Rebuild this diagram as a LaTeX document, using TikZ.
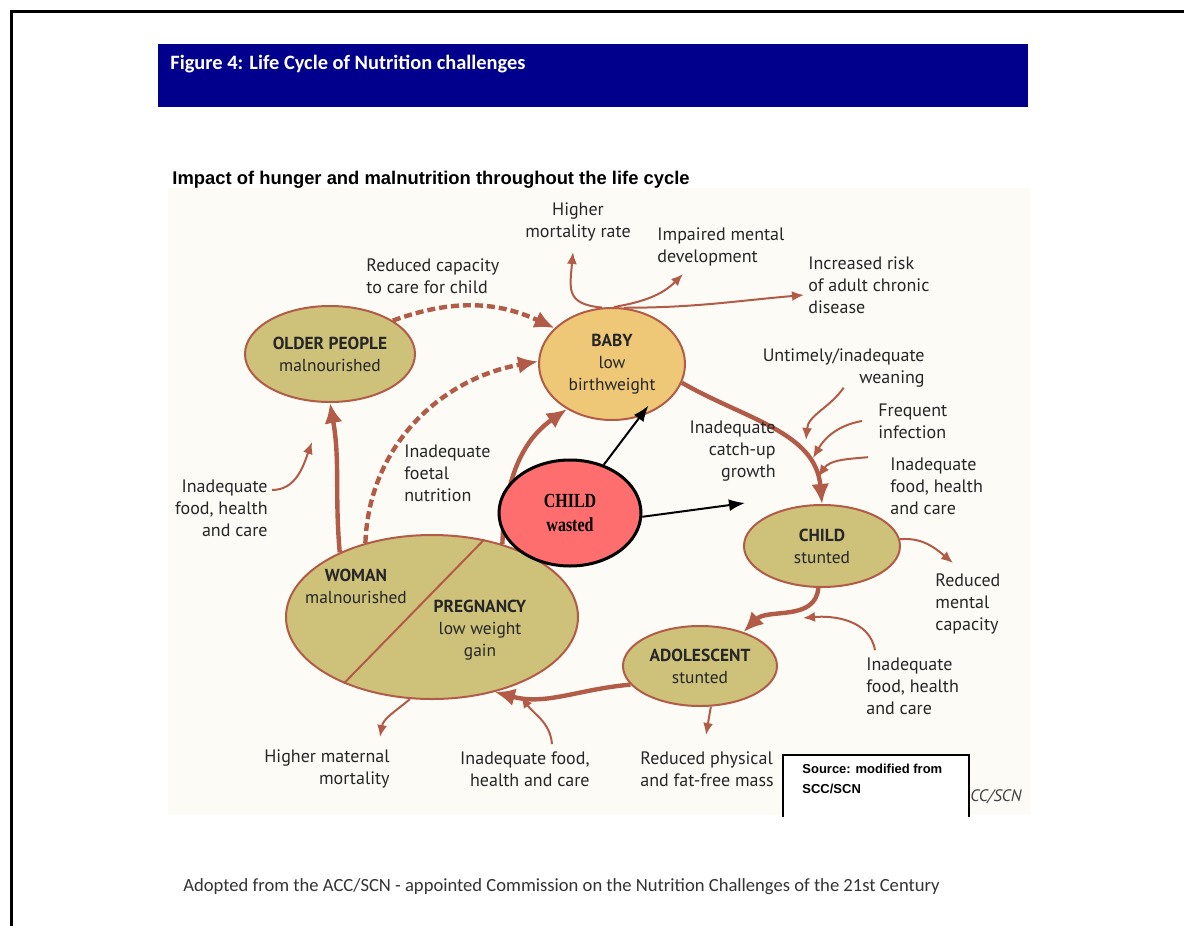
\documentclass[tikz,border=0pt]{standalone}
\usepackage{fontspec}
\setmainfont{PT Sans}
\newfontfamily\headfont{Carlito}
\newfontfamily\subfont{Liberation Sans}
\newfontfamily\wastedfont[FakeStretch=0.8]{Liberation Serif}
\usetikzlibrary{shapes.geometric,arrows.meta}
\definecolor{headblue}{RGB}{0,0,140}
\definecolor{khaki}{RGB}{206,193,122}
\definecolor{babyfill}{RGB}{238,200,118}
\definecolor{rust}{RGB}{178,92,72}
\definecolor{wastedred}{RGB}{255,110,110}
\definecolor{paper}{RGB}{252,251,246}
\begin{document}
\begin{tikzpicture}[x=0.5pt,y=-0.5pt,
  stagedecorate/.style={shape=ellipse,draw=rust,line width=1pt,inner sep=0pt,align=center,text=black!85,font=\fontsize{8.7}{11}\selectfont},
  wasteddecorate/.style={shape=ellipse,draw=black,line width=1.5pt,fill=wastedred,inner sep=0pt,align=center,font=\wastedfont\bfseries\fontsize{10}{12}\selectfont},
  labeldecorate/.style={inner sep=0pt,text=black!85,font=\fontsize{9}{11}\selectfont},
  cycledecorate/.style={->,>={Latex[length=10pt,width=9pt]},draw=rust,line width=2.2pt},
  dashdecorate/.style={cycledecorate,dash pattern=on 4pt off 2pt},
  sidedecorate/.style={->,>={Latex[length=6pt,width=5pt]},draw=rust,line width=1pt},
  blackdecorate/.style={->,>={Latex[length=8pt,width=6pt]},draw=black,line width=1pt}]
\useasboundingbox (0,0) rectangle (1184,926);
\draw[line width=1.5pt] (11,926) -- (11,11) -- (1184,11);
%% header and titles
\node (header) [fill=headblue,minimum width=435pt,minimum height=31.5pt,anchor=north west,inner sep=0pt] at (158,44) {};
\node (figtitle) [anchor=west,text=white,font=\headfont\bfseries\fontsize{10.2}{12}\selectfont,inner sep=0pt] at (170,64) {Figure 4: Life Cycle of Nutrition challenges};
\node (subtitle) [anchor=west,font=\subfont\bfseries\fontsize{9.2}{11}\selectfont,inner sep=0pt] at (172,180) {Impact of hunger and malnutrition throughout the life cycle};
\node (panel) [fill=paper,minimum width=431pt,minimum height=313.5pt,anchor=north west,inner sep=0pt] at (168,188) {};
%% stages of the cycle
\foreach \nodename/\x/\y/\w/\h/\fillcolor/\nodetext in {
  older/330/354/170/96/khaki/{\textbf{OLDER PEOPLE}\\malnourished},
  baby/612/364/146/112/babyfill/{\textbf{BABY}\\low\\birthweight},
  childst/822/546/156/82/khaki/{\textbf{CHILD}\\stunted},
  adol/700/666/154/80/khaki/{\textbf{ADOLESCENT}\\stunted},
  woman/432/617/292/164/khaki/{}} {
  \node (\nodename) at (\x,\y) [stagedecorate,fill=\fillcolor,minimum width=\w*0.5pt,minimum height=\h*0.5pt] {\nodetext};
}
\draw[rust,line width=1pt] (woman.56) -- (woman.-143);
\node (womantext) at (356,586) [labeldecorate,align=center,font=\fontsize{8.7}{11}\selectfont] {\textbf{WOMAN}\\malnourished};
\node (pregtext) at (480,630) [labeldecorate,align=center,font=\fontsize{8.7}{11}\selectfont] {\textbf{PREGNANCY}\\low weight\\gain};
%% arrows of the cycle
\path
\foreach \startnode/\startangle/\endnode/\endangle/\outangle/\inangle in {
  baby/-15/childst/90/-30/95, childst/-95/adol/38/-95/45,
  adol/195/woman/-50/185/-15, woman/145/older/-90/95/-80,
  woman/46/baby/-135/88/-145} {
  (\startnode.\startangle) edge[cycledecorate,out=\outangle,in=\inangle] (\endnode.\endangle)
}
\foreach \startnode/\startangle/\endnode/\endangle/\outangle/\inangle in {
  older/28/baby/148/20/155, woman/132/baby/178/88/190} {
  (\startnode.\startangle) edge[dashdecorate,out=\outangle,in=\inangle] (\endnode.\endangle)
};
\node (childw) at (570,513) [wasteddecorate,minimum width=71pt,minimum height=53pt] {CHILD\\wasted};
\coordinate (catchend) at (745,503);
\draw[blackdecorate,shorten >=-7pt] (childw.55) -- (baby.-62);
\draw[blackdecorate] (childw.-3) -- (catchend);
%% labels
\foreach \nodename/\x/\y/\anc/\aln/\labeltext in {
  mort/578/222/center/center/{Higher\\mortality rate},
  rcap/366/276/west/left/{Reduced capacity\\to care for child},
  impm/657/247/west/left/{Impaired mental\\development},
  risk/808/285/west/left/{Increased risk\\of adult chronic\\disease},
  wean/925/368/east/right/{Untimely/inadequate\\weaning},
  infe/878/421/west/left/{Frequent\\infection},
  fhcr1/890/486/west/left/{Inadequate\\food, health\\and care},
  catch/776/451/east/right/{Inadequate\\catch-up\\growth},
  foet/404/473/west/left/{Inadequate\\foetal\\nutrition},
  fhcl/268/508/east/right/{Inadequate\\food, health\\and care},
  rmen/935/604/west/left/{Reduced\\mental\\capacity},
  fhcr2/866/686/west/left/{Inadequate\\food, health\\and care},
  matm/390/769/east/right/{Higher maternal\\mortality},
  fhcb/590/769/east/right/{Inadequate food,\\health and care},
  rphy/640/769/west/left/{Reduced physical\\and fat-free mass}} {
  \node (\nodename) at (\x,\y) [labeldecorate,anchor=\anc,align=\aln] {\labeltext};
}
%% causes and effects
\coordinate (mortend) at (573,252);
\coordinate (impmend) at (683,274);
\coordinate (riskend) at (804,295);
\coordinate (weanend) at (806,440);
\coordinate (infeend) at (813,458);
\coordinate (fhcr1end) at (818,477);
\coordinate (rmenend) at (953,563);
\coordinate (fhcr2end) at (803,618);
\coordinate (rphyend) at (706,735);
\coordinate (matmend) at (380,737);
\coordinate (fhcbend) at (521,696);
\coordinate (fhclend) at (312,442);
\draw[sidedecorate] (baby.100) to[out=175,in=-95,looseness=1.5] (mortend);
\draw[sidedecorate] (baby.88) to[out=10,in=-135] (impmend);
\draw[sidedecorate] (baby.78) to[out=0,in=185] (riskend);
\draw[sidedecorate] (wean.south) to[out=-125,in=85] (weanend);
\draw[sidedecorate] ([xshift=-8pt]infe.west) to[out=190,in=60] (infeend);
\draw[sidedecorate] ([xshift=-11pt]fhcr1.north west) to[out=185,in=55] (fhcr1end);
\draw[sidedecorate] (childst.5) to[out=5,in=140] (rmenend);
\draw[sidedecorate] ([xshift=4.5pt,yshift=3.5pt]fhcr2.north west) to[out=100,in=5] (fhcr2end);
\draw[sidedecorate] (adol.-75) to[out=-100,in=80] (rphyend);
\draw[sidedecorate] (woman.-105) to[out=-140,in=80] (matmend);
\draw[sidedecorate] ([xshift=-19pt,yshift=3.5pt]fhcb.north east) to[out=95,in=-55] (fhcbend);
\draw[sidedecorate] ([xshift=2pt,yshift=9pt]fhcl.east) to[out=0,in=-110] (fhclend);
%% source
\node (acc) [anchor=east,inner sep=0pt,text=black!75,font=\itshape\fontsize{8.3}{9}\selectfont] at (1022,797) {CC/SCN};
\node (srcbox) [fill=white,minimum width=92.5pt,minimum height=30.5pt,anchor=north west,inner sep=0pt] at (783,755) {};
\draw[line width=1pt] (srcbox.south west) |- (srcbox.north east) -- (srcbox.south east);
\node (srctext) [anchor=north west,align=left,inner sep=0pt,font=\subfont\bfseries\fontsize{6.5}{10}\selectfont] at (802,764) {Source: modified from\\SCC/SCN};
\node (caption) [anchor=west,inner sep=0pt,text=black!80,font=\headfont\fontsize{9.3}{11}\selectfont] at (183,887) {Adopted from the ACC/SCN - appointed Commission on the Nutrition Challenges of the 21st Century};
\end{tikzpicture}
\end{document}
